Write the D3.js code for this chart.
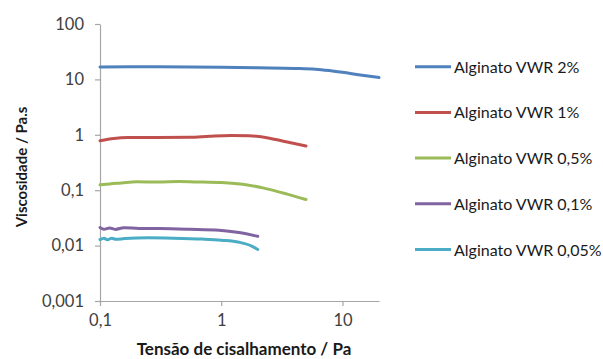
<!DOCTYPE html>
<html>
<head>
  <meta charset="utf-8">
  <title>Viscosidade alginato</title>
  <script src="https://d3js.org/d3.v7.min.js"></script>
  <style>
    body { margin: 0; background: #fff; }
    text { font-family: Lato, "Open Sans", sans-serif; }
  </style>
</head>
<body>
<script>
  // series names
  var seriesNames = ["Alginato VWR 2%", "Alginato VWR 1%", "Alginato VWR 0,5%", "Alginato VWR 0,1%", "Alginato VWR 0,05%"]
  var seriesColors = ["#4F81BD", "#C0504D", "#9BBB59", "#8064A2", "#4BACC6"]

  // stress (Pa) and viscosity (Pa.s)
  var x2 = [0.1, 0.3, 1, 2, 4, 6, 8, 10, 14, 20]
  var y2 = [16.8, 16.9, 16.6, 16.2, 15.8, 15.3, 14.3, 13.4, 12.0, 10.8]

  var x1 = [0.1, 0.13, 0.17, 0.3, 0.55, 0.8, 1.2, 1.7, 2.5, 3.5, 5.0]
  var y1 = [0.78, 0.86, 0.89, 0.89, 0.9, 0.94, 0.97, 0.96, 0.87, 0.74, 0.63]

  var x05 = [0.1, 0.12, 0.15, 0.2, 0.3, 0.45, 0.7, 1.0, 1.5, 2.2, 3.5, 5.0]
  var y05 = [0.125, 0.13, 0.135, 0.142, 0.14, 0.143, 0.14, 0.138, 0.128, 0.11, 0.085, 0.068]

  var x01 = [0.1, 0.108, 0.12, 0.134, 0.157, 0.21, 0.31, 0.55, 0.96, 1.4, 2.0]
  var y01 = [0.0212, 0.0197, 0.0208, 0.0196, 0.0211, 0.0204, 0.0203, 0.0197, 0.0189, 0.0172, 0.0147]

  var x005 = [0.1, 0.108, 0.115, 0.125, 0.135, 0.16, 0.25, 0.4, 0.7, 1.0, 1.4, 1.8, 2.0]
  var y005 = [0.0128, 0.0136, 0.0127, 0.0136, 0.013, 0.0134, 0.0138, 0.0136, 0.0131, 0.0125, 0.0115, 0.0097, 0.0085]

  var xTicks = [0.1, 1, 10]
  var yTicks = [0.001, 0.01, 0.1, 1, 10, 100]

  var allX = [x2, x1, x05, x01, x005]
  var allY = [y2, y1, y05, y01, y005]
  var series = seriesNames.map(function(name, i) {
    return { name: name, color: seriesColors[i],
             values: allX[i].map(function(x, j) { return { x: x, y: allY[i][j] } }) }
  })

  var svg = d3.select("body").append("svg")
      .attr("width", 603).attr("height", 359)

  var x = d3.scaleLog().domain([0.1, 20]).range([100, 379])
  var y = d3.scaleLog().domain([0.001, 100]).range([301, 24])

  var fmt = function(d) { return String(d).replace(".", ",") }

  // axes
  svg.append("g").attr("transform", "translate(100,0)")
      .call(d3.axisLeft(y).tickValues(yTicks).tickFormat(fmt).tickSizeInner(5).tickSizeOuter(0).tickPadding(11))
  svg.append("g").attr("transform", "translate(0,301)")
      .call(d3.axisBottom(x).tickValues(xTicks).tickFormat(fmt).tickSizeInner(5).tickSizeOuter(0).tickPadding(8))

  svg.selectAll(".domain, .tick line").attr("stroke", "#a6a6a6").attr("stroke-width", 1.2)
  svg.selectAll(".tick text").attr("font-family", "Lato").attr("font-size", "16.5px").attr("fill", "#404040")

  // lines
  var line = d3.line()
      .x(function(d) { return x(d.x) })
      .y(function(d) { return y(d.y) })
      .curve(d3.curveMonotoneX)

  svg.selectAll("path.serie").data(series).enter().append("path")
      .attr("class", "serie")
      .attr("d", function(d) { return line(d.values) })
      .attr("fill", "none")
      .attr("stroke", function(d) { return d.color })
      .attr("stroke-width", 3)
      .attr("stroke-linecap", "round")

  // axis titles
  svg.append("text")
      .attr("transform", "translate(27,167) rotate(-90)")
      .attr("text-anchor", "middle")
      .attr("font-size", "15px").attr("font-weight", "bold").attr("fill", "#1a1a1a")
      .text("Viscosidade / Pa.s")

  svg.append("text")
      .attr("x", 244).attr("y", 355)
      .attr("text-anchor", "middle")
      .attr("font-size", "17px").attr("font-weight", "bold").attr("fill", "#1a1a1a")
      .text("Tensão de cisalhamento / Pa")

  // legend
  var legend = svg.selectAll("g.leg").data(series).enter().append("g")
      .attr("class", "leg")
      .attr("transform", function(d, i) { return "translate(415," + (66.7 + i * 45.7) + ")" })
  legend.append("line")
      .attr("x1", 0).attr("x2", 36).attr("y1", 0).attr("y2", 0)
      .attr("stroke", function(d) { return d.color }).attr("stroke-width", 3)
  legend.append("text")
      .attr("x", 39).attr("y", 6)
      .attr("font-size", "16px").attr("fill", "#1a1a1a")
      .text(function(d) { return d.name })
</script>
</body>
</html>
